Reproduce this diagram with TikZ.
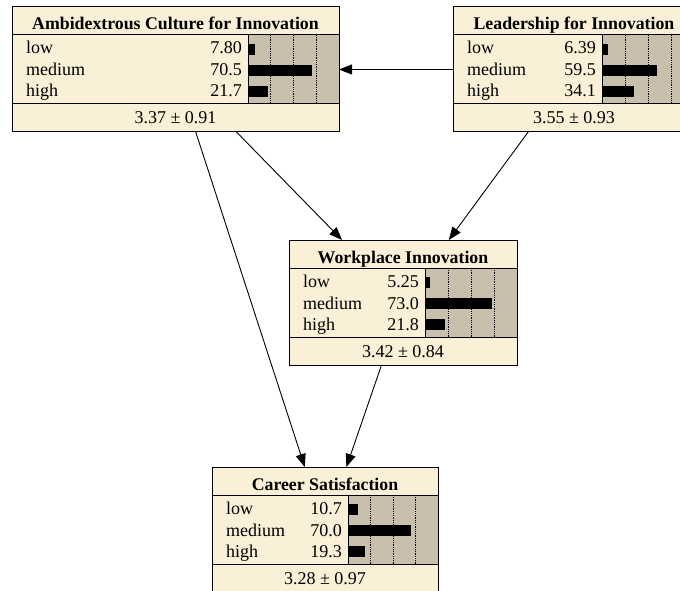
\documentclass[tikz,border=0pt]{standalone}
\usepackage{fontspec}
\setmainfont{Liberation Serif}
\usepackage{tikz}
\usetikzlibrary{arrows.meta}
\definecolor{bncream}{HTML}{FAF0D7}
\definecolor{bngray}{HTML}{C8C0AC}

\begin{document}
\begin{tikzpicture}[x=1pt,y=-1pt,
    bnframe/.style={draw,line width=1pt,fill=bncream,rectangle,inner sep=0pt,outer sep=0pt,anchor=north west},
    bntitle/.style={font=\fontsize{17.8}{20}\selectfont\bfseries,inner sep=0pt},
    bntext/.style={font=\fontsize{18}{20}\selectfont,inner sep=0pt},
    link/.style={-{Triangle[length=13pt,width=10pt]},line width=0.9pt}]
  \useasboundingbox (0,0) rectangle (680,591);
  \clip (0,0) rectangle (680,591);
  % belief boxes: name/left/top/right/bar start/title/low/medium/high/mean
  \foreach \nm/\L/\T/\R/\G/\ttl/\lo/\me/\hi/\ft in {
      ambi/12/7/339/248/Ambidextrous Culture for Innovation/7.80/70.5/21.7/{3.37 ± 0.91},
      lead/453/7/695/602/Leadership for Innovation/6.39/59.5/34.1/{3.55 ± 0.93},
      work/289/240/517/425/Workplace Innovation/5.25/73.0/21.8/{3.42 ± 0.84},
      care/212/467/438/348/Career Satisfaction/10.7/70.0/19.3/{3.28 ± 0.97}}{
    \node[bnframe,minimum width={(\R-\L)*1pt},minimum height=125pt] (\nm) at (\L,\T) {};
    \fill[bngray] (\G,\T+28) rectangle (\R-0.5,\T+97);
    \foreach \k in {1,2,3}
      \draw[densely dotted,line width=0.8pt] ({\G+\k*(\R-\G)/4},\T+28) -- ++(0,69);
    \fill (\G,\T+37) rectangle ({\G+\lo*(\R-\G)/100},\T+48);
    \fill (\G,\T+58) rectangle ({\G+\me*(\R-\G)/100},\T+69);
    \fill (\G,\T+79) rectangle ({\G+\hi*(\R-\G)/100},\T+90);
    \draw[line width=1pt] (\L,\T+28) -- (\R,\T+28);
    \draw[line width=1pt] (\L,\T+97) -- (\R,\T+97);
    \draw[line width=1pt] (\G,\T+28) -- (\G,\T+97);
    \node[bntitle,anchor=base] at ({(\L+\R)/2},\T+23) {\ttl};
    \node[bntext,anchor=base west] at (\L+14,\T+47) {low};
    \node[bntext,anchor=base west] at (\L+14,\T+69) {medium};
    \node[bntext,anchor=base west] at (\L+14,\T+90) {high};
    \node[bntext,anchor=base east] at (\G-6,\T+47) {\lo};
    \node[bntext,anchor=base east] at (\G-6,\T+69) {\me};
    \node[bntext,anchor=base east] at (\G-6,\T+90) {\hi};
    \node[bntext,anchor=base] at ({(\L+\R)/2},\T+117) {\ft};
  }
  % links
  \draw[link] (lead) -- (ambi);
  \draw[link] (ambi) -- (work);
  \draw[link] (lead) -- (work);
  \draw[link] (ambi) -- (care);
  \draw[link] (work) -- (care);
\end{tikzpicture}
\end{document}
